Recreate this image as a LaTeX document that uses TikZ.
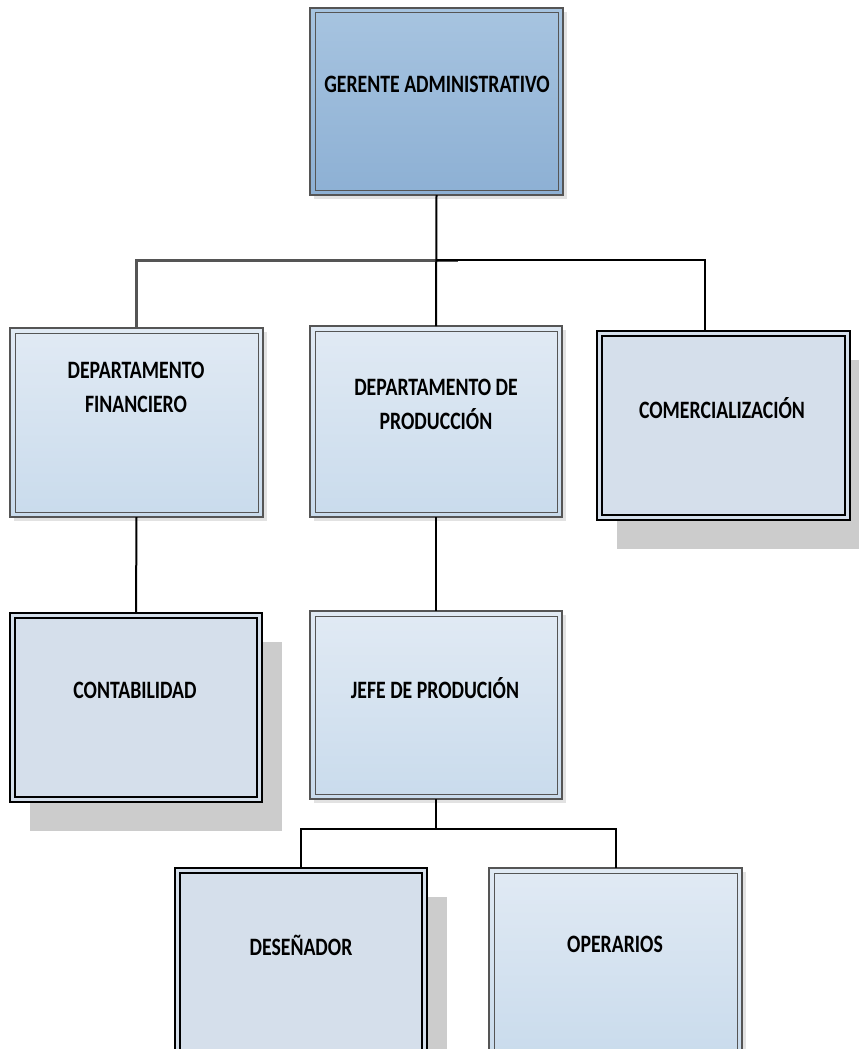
\documentclass[tikz,border=0pt]{standalone}
\usepackage{fontspec}
\setmainfont{Carlito}[FakeStretch=0.79]
\usetikzlibrary{backgrounds,calc}
\definecolor{gerTop}{HTML}{A7C4E0}
\definecolor{gerBot}{HTML}{8DB0D4}
\definecolor{lightTop}{HTML}{E1EAF4}
\definecolor{lightBot}{HTML}{C9DBEC}
\definecolor{darkFill}{HTML}{D5DFEB}
\definecolor{frameGray}{HTML}{555555}
\definecolor{shadowDark}{HTML}{CCCCCC}
\definecolor{shadowLight}{HTML}{E2E2E2}
\newcommand{\innerframe}[2]{\draw[#2] ($(#1.north west)+(5,5)$) rectangle ($(#1.south east)+(-5,-5)$);}
\newcommand{\bigshadow}[1]{\fill[shadowDark] ($(#1.north west)+(20,29)$) rectangle ($(#1.south east)+(20,29)$);}
\newcommand{\smallshadow}[1]{\fill[shadowLight] ($(#1.north west)+(4,4)$) rectangle ($(#1.south east)+(4,4)$);}
\begin{document}
\begin{tikzpicture}[x=1pt,y=-1pt,
  boxbase/.style={rectangle, inner sep=0pt, outer sep=0pt, minimum width=252pt, minimum height=189pt},
  gerbox/.style={boxbase, draw=frameGray, line width=1.2pt, top color=gerTop, bottom color=gerBot},
  lightbox/.style={boxbase, draw=frameGray, line width=1.1pt, top color=lightTop, bottom color=lightBot},
  darkbox/.style={boxbase, draw=black, line width=2.2pt, fill=darkFill},
  lightinner/.style={draw=frameGray, line width=1pt},
  darkinner/.style={draw=black, line width=2.2pt},
  lbl/.style={font=\fontsize{25}{34}\selectfont\bfseries, align=center, inner sep=0pt, text=black},
  conn/.style={draw=black, line width=2pt},
  conngray/.style={draw=frameGray, line width=2.4pt}
]
\clip (0,0) rectangle (859,1049);

% boxes
\node[gerbox, minimum width=253pt, minimum height=187pt] (ger) at (436.5,101.5) {};
\node[lightbox, minimum width=253pt] (fin) at (136.5,422.5) {};
\node[lightbox, minimum height=191pt] (prod) at (436,421.5) {};
\node[darkbox, minimum width=253pt] (com) at (723.5,425.5) {};
\node[darkbox] (con) at (136,707.5) {};
\node[lightbox, minimum height=188pt] (jefe) at (436,705) {};
\node[darkbox] (des) at (301,962.5) {};
\node[lightbox, minimum width=253pt] (ope) at (615.5,962.5) {};

\begin{scope}[on background layer]
  \fill[white] (0,0) rectangle (859,1049);
  \smallshadow{ger}
  \smallshadow{fin}
  \smallshadow{prod}
  \smallshadow{jefe}
  \smallshadow{ope}
  \bigshadow{com}
  \bigshadow{con}
  \bigshadow{des}
\end{scope}

\innerframe{ger}{lightinner}
\innerframe{fin}{lightinner}
\innerframe{prod}{lightinner}
\innerframe{jefe}{lightinner}
\innerframe{ope}{lightinner}
\innerframe{com}{darkinner}
\innerframe{con}{darkinner}
\innerframe{des}{darkinner}

% labels
\node[lbl] (tger) at (437,84) {GERENTE ADMINISTRATIVO};
\node[lbl] (tfin) at (136,387) {DEPARTAMENTO\\FINANCIERO};
\node[lbl] (tprod) at (436,404) {DEPARTAMENTO DE\\PRODUCCIÓN};
\node[lbl] (tcom) at (722,408) {COMERCIALIZACIÓN};
\node[lbl] (tcon) at (135,690) {CONTABILIDAD};
\node[lbl] (tjefe) at (435,688) {JEFE DE PRODUCIÓN};
\node[lbl] (tdes) at (301,945) {DESEÑADOR};
\node[lbl] (tope) at (615,944) {OPERARIOS};

% connectors
\coordinate (busL) at (458,260.5);
\coordinate (bus) at (437,259.5);
\coordinate (comtop) at (704.5,331);
\coordinate (jb) at (436,829);
\draw[conngray] (fin.north) |- (busL);
\draw[conn] (ger.south) -- (prod.north);
\draw[conn] (bus) -| (comtop);
\draw[conn] (fin.south) -- (con.north);
\draw[conn] (prod.south) -- (jefe.north);
\draw[conn] (jefe.south) -- (jb);
\draw[conn] (des.north) |- (jb) -| (ope.north);
\end{tikzpicture}
\end{document}
